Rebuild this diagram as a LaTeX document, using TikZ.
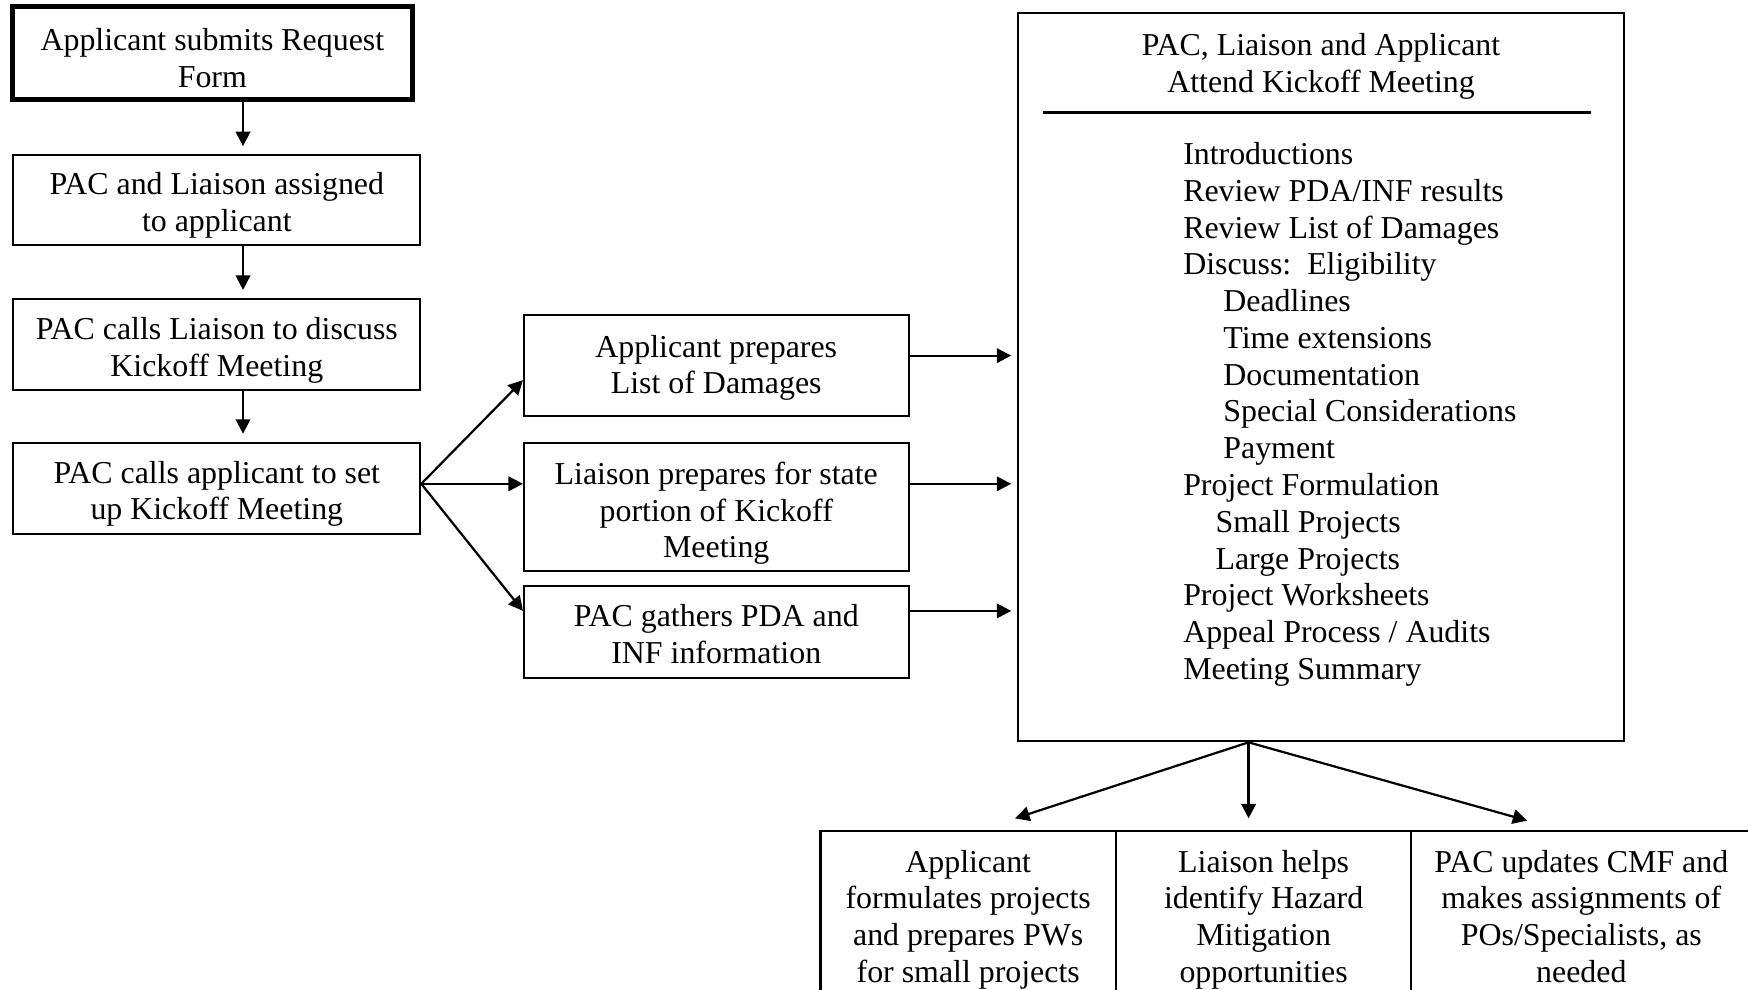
\documentclass[tikz,border=0pt]{standalone}
\usepackage{fontspec}
\setmainfont{Liberation Serif}
\usetikzlibrary{calc,arrows.meta}
\begin{document}
\begin{tikzpicture}[x=0.5pt,y=-0.5pt,
  every node/.style={font=\fontsize{14.3}{16.5}\selectfont},
  box/.style={draw, line width=0.9pt, inner sep=0pt},
  txt/.style={align=center, inner sep=0pt},
  arr/.style={line width=1pt, -{Triangle[length=6.5pt,width=6.5pt]}},
  item/.style={anchor=base west, inner sep=0pt}]
\useasboundingbox (0,0) rectangle (1568,888);
\clip (0,0) rectangle (1568,888);

% left column
\node[box, line width=2.1pt, minimum width=179.5pt, minimum height=41.5pt] (b1) at (190.5,47.5) {};
\node[box, minimum width=182.5pt, minimum height=40.5pt] (b2) at (194.5,179.5) {};
\node[box, minimum width=182.5pt, minimum height=41pt] (b3) at (194.5,309) {};
\node[box, minimum width=182.5pt, minimum height=41pt] (b4) at (194.5,438) {};
\node[txt] (b1t) at ($(b1)+(0,4.5)$) {Applicant submits Request\\Form};
\node[txt] (b2t) at ($(b2)+(0,5)$) {PAC and Liaison assigned\\to applicant};
\node[txt] (b3t) at ($(b3)+(0,5)$) {PAC calls Liaison to discuss\\Kickoff Meeting};
\node[txt] (b4t) at ($(b4)+(0,5)$) {PAC calls applicant to set\\up Kickoff Meeting};
\coordinate (ax) at (218,0);
\draw[arr] (b1.south -| ax) -- ($(b2.north -| ax)+(0,-7)$);
\draw[arr] (b2.south -| ax) -- ($(b3.north -| ax)+(0,-7)$);
\draw[arr] (b3.south -| ax) -- ($(b4.north -| ax)+(0,-7)$);

% middle column
\node[box, minimum width=172.5pt, minimum height=45pt] (ma) at (642.5,328) {};
\node[box, minimum width=172.5pt, minimum height=57.5pt] (mb) at (642.5,454.5) {};
\node[box, minimum width=172.5pt, minimum height=41pt] (mc) at (642.5,567) {};
\node[txt] (mat) at ($(ma)+(0,2)$) {Applicant prepares\\List of Damages};
\node[txt] (mbt) at ($(mb)+(0,6)$) {Liaison prepares for state\\portion of Kickoff\\Meeting};
\node[txt] (mct) at ($(mc)+(0,2)$) {PAC gathers PDA and\\INF information};
\coordinate (fan) at ($(b4.east)+(0,-4)$);
\draw[arr] (fan) -- ($(ma.west)+(0,13)$);
\draw[arr] (fan) -- (mb.west |- fan);
\draw[arr] (fan) -- ($(mc.west)+(0,-19)$);

% kickoff meeting box
\node[box, minimum width=272pt, minimum height=326.5pt] (big) at (1185,338.5) {};
\node[txt] (title) at (1185,59.5) {PAC, Liaison and Applicant\\Attend Kickoff Meeting};
\draw[line width=1pt] (936,101) -- (1427,101);
\draw[arr] ($(ma.east)+(0,-9)$) -- ($(big.west |- ma.east)+(-5,-9)$);
\draw[arr] ($(mb.east)+(0,-20.5)$) -- ($(big.west |- mb.east)+(-5,-20.5)$);
\draw[arr] ($(mc.east)+(0,-19)$) -- ($(big.west |- mc.east)+(-5,-19)$);

\node[item] (i1) at (1061,147.5) {Introductions};
\node[item] (i2) at (1061,180.5) {Review PDA/INF results};
\node[item] (i3) at (1061,213.5) {Review List of Damages};
\node[item] (i4) at (1061,246.5) {Discuss:\ \ Eligibility};
\node[item] (i5) at (1097,279.5) {Deadlines};
\node[item] (i6) at (1097,312.5) {Time extensions};
\node[item] (i7) at (1097,345.5) {Documentation};
\node[item] (i8) at (1097,378.5) {Special Considerations};
\node[item] (i9) at (1097,411.5) {Payment};
\node[item] (i10) at (1061,444.5) {Project Formulation};
\node[item] (i11) at (1090,477.5) {Small Projects};
\node[item] (i12) at (1090,510.5) {Large Projects};
\node[item] (i13) at (1061,543.5) {Project Worksheets};
\node[item] (i14) at (1061,576.5) {Appeal Process / Audits};
\node[item] (i15) at (1061,609.5) {Meeting Summary};

% follow-up tasks
\node[box, minimum width=132.5pt, minimum height=77pt] (d1) at (868.5,822) {};
\node[box, minimum width=132.5pt, minimum height=77pt] (d2) at (1133.5,822) {};
\node[box, minimum width=152.5pt, minimum height=77pt] (d3) at (1418.5,822) {};
\node[txt] (d1t) at ($(d1)+(0,3)$) {Applicant\\formulates projects\\and prepares PWs\\for small projects};
\node[txt] (d2t) at ($(d2)+(0,3)$) {Liaison helps\\identify Hazard\\Mitigation\\opportunities};
\node[txt] (d3t) at (d3) {PAC updates CMF and\\makes assignments of\\POs/Specialists, as\\needed};
\coordinate (src) at ($(big.south)+(-65,0)$);
\draw[arr] (src) -- ($(d1.north)+(42,-10)$);
\draw[arr] (src) -- ($(d2.north)+(-13.5,-10)$);
\draw[arr] (src) -- ($(d3.north)+(-48.5,-8)$);
\end{tikzpicture}
\end{document}
